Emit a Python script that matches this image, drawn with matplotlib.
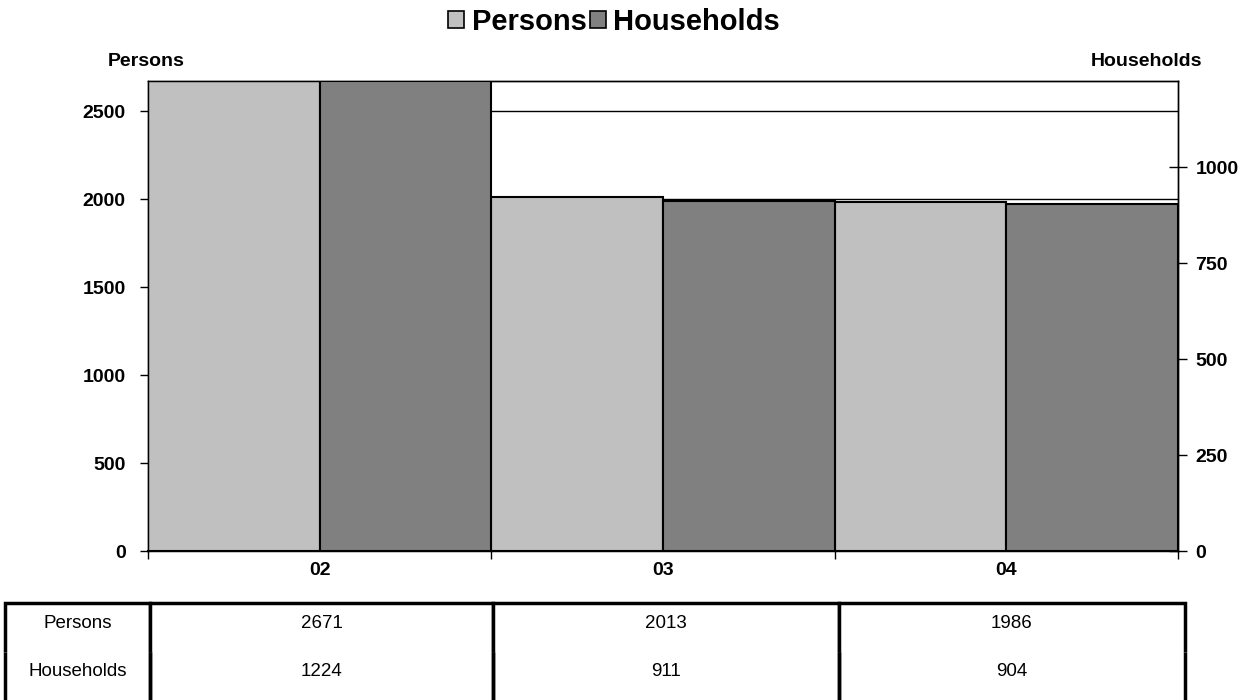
import numpy as np
import matplotlib.pyplot as plt
from matplotlib.patches import Patch

plt.rcParams['font.family'] = ['Liberation Sans', 'DejaVu Sans']

# data
years = ['02', '03', '04']
persons = [2671, 2013, 1986]
households = [1224, 911, 904]
persons_ticks = [0, 500, 1000, 1500, 2000, 2500]
households_ticks = [0, 250, 500, 750, 1000]

c_pers = '#C0C0C0'
c_hh = '#808080'

fig = plt.figure(figsize=(12.47, 7), dpi=100)
ax = fig.add_axes([148/1247, 1 - 551/700, 1030/1247, 470/700])
ax2 = ax.twinx()

x = np.arange(len(years))
ax.bar(x - 0.25, persons, width=0.5, color=c_pers, edgecolor='black', linewidth=1.5, zorder=3)
ax2.bar(x + 0.25, households, width=0.5, color=c_hh, edgecolor='black', linewidth=1.5, zorder=3)

ax.set_xlim(-0.5, len(years) - 0.5)
ax.set_ylim(0, max(persons))
ax2.set_ylim(0, max(households))

# gridlines behind bars
ax.set_yticks(persons_ticks)
ax.yaxis.grid(True, color='black', linewidth=1.0, zorder=0)
ax.set_axisbelow(True)
ax2.set_yticks(households_ticks)

ax.set_xticks(x)
ax.set_xticklabels(years, fontweight='bold', fontsize=14)
ax.set_xticks(np.arange(len(years) + 1) - 0.5, minor=True)
ax.tick_params(axis='x', which='major', length=0, pad=8)
ax.tick_params(axis='x', which='minor', length=6, width=1, direction='out')
ax.tick_params(axis='y', length=6, width=1, direction='out', pad=10)
ax2.tick_params(axis='y', length=13, width=1, direction='inout', pad=6)

for lab in ax.get_yticklabels() + ax2.get_yticklabels():
    lab.set_fontweight('bold')
    lab.set_fontsize(14)

for a in (ax, ax2):
    for s in a.spines.values():
        s.set_linewidth(1.0)
ax.spines['bottom'].set_linewidth(1.5)

# axis titles
fig.text(146/1247, 1 - 62/700, 'Persons', ha='center', va='center', fontsize=14, fontweight='bold')
fig.text(1146/1247, 1 - 62/700, 'Households', ha='center', va='center', fontsize=14, fontweight='bold')

# legend
handles = [Patch(facecolor=c_pers, edgecolor='black', linewidth=1.2),
           Patch(facecolor=c_hh, edgecolor='black', linewidth=1.2)]
fig.legend(handles, ['Persons', 'Households'], loc='center', bbox_to_anchor=(614/1247, 1 - 22/700),
           ncol=2, frameon=False, handlelength=0.55, handleheight=0.55, handletextpad=0.25,
           columnspacing=0.1, prop={'weight': 'bold', 'size': 21})

# data table
cell_text = [['Persons'] + [str(v) for v in persons],
             ['Households'] + [str(v) for v in households]]
tb = ax.table(cellText=cell_text, cellLoc='center',
              colWidths=[145, 343, 346, 346],
              bbox=[(5 - 148)/1030, (551 - 701)/470, 1180/1030, 98/470])
tb.auto_set_font_size(False)
tb.set_fontsize(13.5)
for (r, c), cell in tb.get_celld().items():
    cell.set_linewidth(2.5)
    cell.visible_edges = 'LTR' if r == 0 else 'LR'
    cell.get_text().set_va('baseline')
tb.set_clip_on(False)

fig.savefig('out.png', dpi=100)
